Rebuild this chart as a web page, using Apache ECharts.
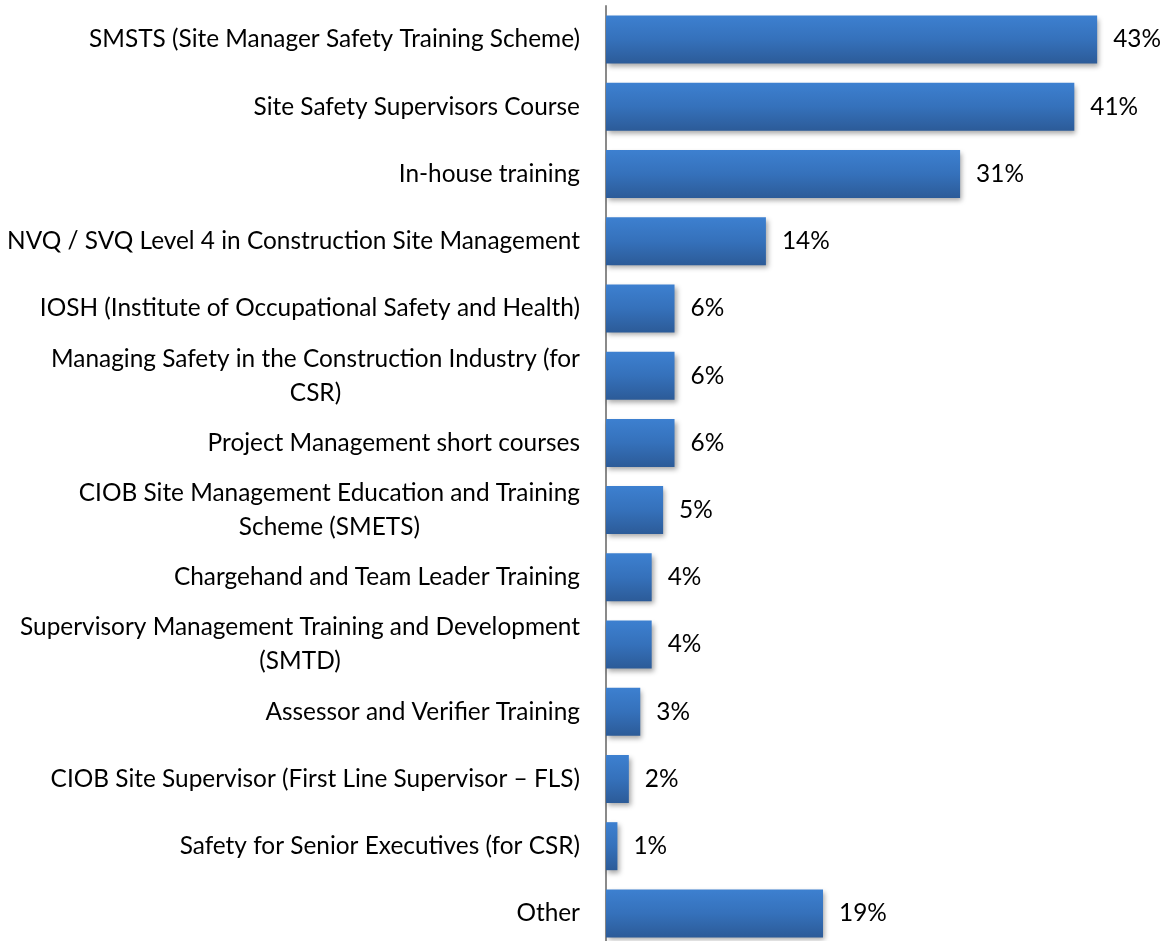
<!DOCTYPE html>
<html>
<head>
<meta charset="utf-8">
<script src="https://cdn.jsdelivr.net/npm/echarts@6/dist/echarts.min.js"></script>
<style>
html,body{margin:0;padding:0;background:#fff;overflow:hidden;}
#chart{width:1164px;height:947px;}
</style>
</head>
<body>
<div id="chart"></div>
<script>
const categories = [
  "SMSTS (Site Manager Safety Training Scheme)",
  "Site Safety Supervisors Course",
  "In-house training",
  "NVQ / SVQ Level 4 in Construction Site Management",
  "IOSH (Institute of Occupational Safety and Health)",
  "Managing Safety in the Construction Industry (for\nCSR)",
  "Project Management short courses",
  "CIOB Site Management Education and Training\nScheme (SMETS)",
  "Chargehand and Team Leader Training",
  "Supervisory Management Training and Development\n(SMTD)",
  "Assessor and Verifier Training",
  "CIOB Site Supervisor (First Line Supervisor \u2013 FLS)",
  "Safety for Senior Executives (for CSR)",
  "Other"
];
const values = [43, 41, 31, 14, 6, 6, 6, 5, 4, 4, 3, 2, 1, 19];

const FONT = 'Lato';
const FS = 24.4;

const chart = echarts.init(document.getElementById('chart'), null, {renderer: 'canvas'});
chart.setOption({
  animation: false,
  backgroundColor: '#ffffff',
  grid: {left: 606, width: 514, top: 6, height: 941, containLabel: false},
  xAxis: {
    type: 'value', min: 0, max: 45, show: false
  },
  yAxis: {
    type: 'category',
    inverse: true,
    data: categories,
    axisLine: {show: true, lineStyle: {color: '#8a8a8a', width: 2}},
    axisTick: {show: false},
    splitLine: {show: false},
    axisLabel: {
      margin: 26,
      color: '#000',
      fontFamily: FONT,
      fontSize: FS,
      lineHeight: 34,
      align: 'right',
      formatter: function (v) {
        return v.split('\n').map(function (l) { return '{c|' + l + '}'; }).join('\n');
      },
      rich: {
        c: {align: 'center', color: '#000', fontFamily: FONT, fontSize: FS, lineHeight: 34}
      }
    }
  },
  series: [{
    type: 'bar',
    data: values,
    barWidth: 48,
    itemStyle: {
      color: new echarts.graphic.LinearGradient(0, 0, 0, 1, [
        {offset: 0, color: '#3d80d0'},
        {offset: 0.5, color: '#3571bb'},
        {offset: 1, color: '#2c5b98'}
      ]),
      shadowColor: 'rgba(0,0,0,0.35)',
      shadowBlur: 5,
      shadowOffsetX: 2,
      shadowOffsetY: 3
    },
    label: {
      show: true,
      position: 'right',
      distance: 16,
      formatter: '{c}%',
      color: '#000',
      fontFamily: FONT,
      fontSize: FS
    }
  }]
});
</script>
</body>
</html>
